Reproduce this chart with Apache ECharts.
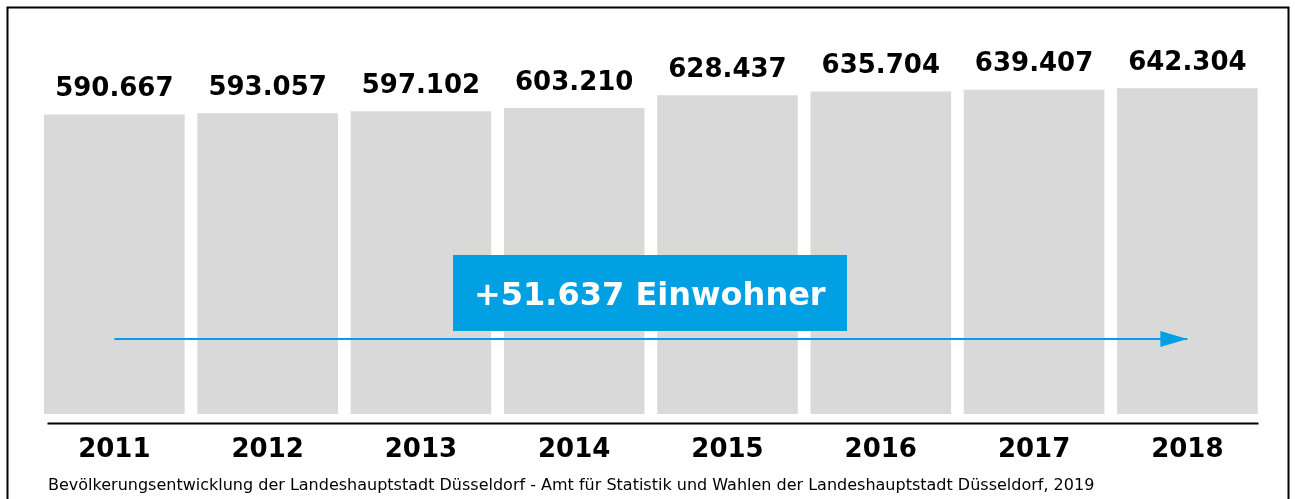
<!DOCTYPE html>
<html>
<head>
<meta charset="utf-8">
<script src="https://cdn.jsdelivr.net/npm/echarts@6/dist/echarts.min.js"></script>
<style>
  html, body { margin: 0; padding: 0; background: #fff; }
  #main { width: 1295px; height: 499px; }
</style>
</head>
<body>
<div id="main"></div>
<script>
  // Einwohner je Jahr
  var years = ['2011', '2012', '2013', '2014', '2015', '2016', '2017', '2018'];
  var population = [590667, 593057, 597102, 603210, 628437, 635704, 639407, 642304];
  var growthText = '+51.637 Einwohner';
  var sourceText = 'Bevölkerungsentwicklung der Landeshauptstadt Düsseldorf - Amt für Statistik und Wahlen der Landeshauptstadt Düsseldorf, 2019';
  var arrowLevel = 148000;

  var font = 'DejaVu Sans, Verdana, sans-serif';

  function fmt(v) {
    var s = String(v);
    return s.slice(0, s.length - 3) + '.' + s.slice(s.length - 3);
  }

  var myChart = echarts.init(document.getElementById('main'));
  var option = {
    animation: false,
    grid: { left: 37.7, right: 31, top: 59, bottom: 77 },
    xAxis: {
      type: 'category',
      data: years,
      axisLine: { show: false, onZero: false },
      axisTick: { show: false },
      axisLabel: {
        margin: 15,
        color: '#000',
        fontFamily: font,
        fontWeight: 'bold',
        fontSize: 26
      }
    },
    yAxis: {
      type: 'value',
      min: -15776,
      max: 700000,
      show: false,
      splitLine: { show: false }
    },
    series: [{
      type: 'bar',
      data: population,
      barWidth: 140.6,
      itemStyle: { color: '#d9d9d9' },
      label: {
        show: true,
        position: 'top',
        distance: 12,
        color: '#000',
        fontFamily: font,
        fontWeight: 'bold',
        fontSize: 26,
        formatter: function (p) { return fmt(p.value); }
      },
      markLine: {
        silent: true,
        symbol: ['none', 'path://M5,0 L10,10 L0,10 Z'],
        symbolSize: [16, 27],
        symbolOffset: [[0, 0], [0, 13.5]],
        label: { show: false },
        lineStyle: { color: '#00a0e2', width: 2, type: 'solid' },
        data: [[
          { coord: [years[0], arrowLevel] },
          { coord: [years[years.length - 1], arrowLevel] }
        ]]
      }
    }],
    graphic: [
      {
        type: 'rect',
        left: 5, top: 5,
        shape: { width: 1281, height: 520 },
        style: { fill: 'none', stroke: '#000', lineWidth: 2 }
      },
      {
        type: 'line',
        left: 45, top: 421,
        shape: { x1: 0, y1: 0, x2: 1211, y2: 0 },
        style: { stroke: '#000', lineWidth: 2 }
      },
      {
        type: 'rect',
        left: 453, top: 255,
        shape: { width: 394, height: 76 },
        style: { fill: '#00a0e2' },
        z: 10
      },
      {
        type: 'text',
        left: 474, top: 281,
        z: 11,
        style: {
          text: growthText,
          fill: '#fff',
          font: 'bold 32px ' + font
        }
      },
      {
        type: 'text',
        left: 48, top: 478,
        style: {
          text: sourceText,
          fill: '#000',
          font: '16px ' + font
        }
      }
    ]
  };
  myChart.setOption(option);
</script>
</body>
</html>
